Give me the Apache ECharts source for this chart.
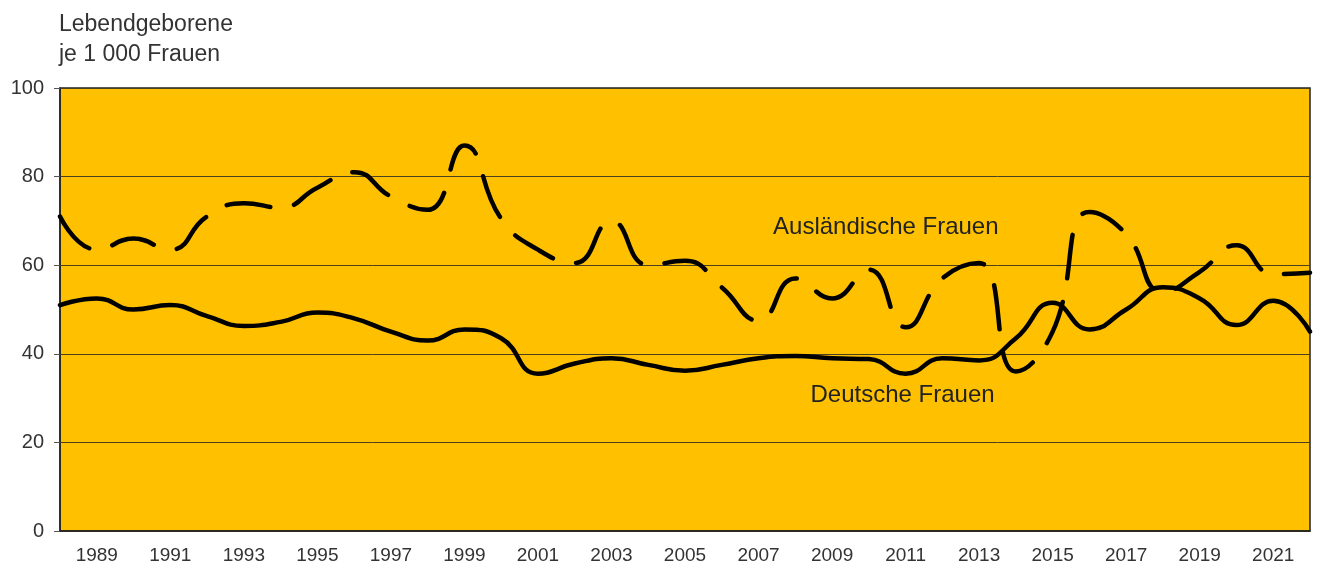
<!DOCTYPE html>
<html>
<head>
<meta charset="utf-8">
<script src="https://cdn.jsdelivr.net/npm/echarts@6/dist/echarts.min.js"></script>
<style>
  html, body { margin: 0; padding: 0; background: #fff; }
  #chart { width: 1318px; height: 575px; }
</style>
</head>
<body>
<div id="chart"></div>
<script>
var years = ['1988','1989','1990','1991','1992','1993','1994','1995','1996','1997',
             '1998','1999','2000','2001','2002','2003','2004','2005','2006','2007',
             '2008','2009','2010','2011','2012','2013','2014','2015','2016','2017',
             '2018','2019','2020','2021','2022'];
var auslaendische = [71, 63.5, 66, 63.5, 71, 74, 73, 77.5, 81, 75.5,
                     72.5, 87, 70.5, 63.5, 60.5, 70, 60, 61, 55, 47.5,
                     57, 52.5, 59, 46, 57, 60.5, 36, 45, 72, 67,
                     54, 58.5, 64.5, 58, 58.3];
var deutsche = [51, 52.5, 50, 51, 48.5, 46.3, 47.2, 49.3, 48, 45,
                43, 45.5, 43.5, 35.5, 37.8, 39, 37.5, 36.2, 37.5, 39,
                39.5, 39, 38.8, 35.5, 39, 38.5, 43.5, 51.5, 45.5, 50,
                55, 52.5, 46.5, 52, 45];
var yTicks = [0, 20, 40, 60, 80, 100];

var font = 'Liberation Sans, Arial, sans-serif';
var myChart = echarts.init(document.getElementById('chart'));

var option = {
    animation: false,
    title: {
        text: 'Lebendgeborene\nje 1 000 Frauen',
        left: 54,
        top: 5,
        textStyle: {
            color: '#333',
            fontFamily: font,
            fontWeight: 'normal',
            fontSize: 23,
            lineHeight: 30
        }
    },
    grid: {
        left: 60,
        right: 8,
        top: 88,
        bottom: 44,
        show: true,
        backgroundColor: '#FFC000',
        borderColor: '#222',
        borderWidth: 1.5
    },
    xAxis: {
        type: 'category',
        data: years,
        boundaryGap: false,
        axisLine: { show: true, lineStyle: { color: '#222', width: 1.5 } },
        axisTick: { show: false },
        splitLine: { show: false },
        axisLabel: {
            color: '#333',
            fontFamily: font,
            fontSize: 19,
            margin: 15,
            interval: function (i, v) { return Number(v) % 2 === 1; }
        }
    },
    yAxis: {
        type: 'value',
        min: yTicks[0],
        max: yTicks[yTicks.length - 1],
        interval: 20,
        axisLine: { show: true, lineStyle: { color: '#222', width: 1.5 } },
        axisTick: { show: true, length: 6, lineStyle: { color: '#555' } },
        splitLine: { show: true, lineStyle: { color: '#4d4020', width: 1 } },
        axisLabel: {
            color: '#333',
            fontFamily: font,
            fontSize: 20,
            margin: 16
        }
    },
    series: [
        {
            name: 'Ausländische Frauen',
            type: 'line',
            data: auslaendische,
            smooth: 0.5,
            symbol: 'none',
            lineStyle: { color: '#000', width: 4.5, type: [44, 24], cap: 'round' },
            markPoint: {
                symbol: 'circle',
                symbolSize: 0,
                silent: true,
                label: {
                    show: true,
                    formatter: 'Ausländische Frauen',
                    color: '#222',
                    fontFamily: font,
                    fontSize: 24,
                    offset: [17, 0]
                },
                data: [{ coord: ['2010', 68.6] }]
            }
        },
        {
            name: 'Deutsche Frauen',
            type: 'line',
            data: deutsche,
            smooth: 0.5,
            symbol: 'none',
            lineStyle: { color: '#000', width: 4.5, cap: 'round' },
            markPoint: {
                symbol: 'circle',
                symbolSize: 0,
                silent: true,
                label: {
                    show: true,
                    formatter: 'Deutsche Frauen',
                    color: '#222',
                    fontFamily: font,
                    fontSize: 24,
                    offset: [-3, 0]
                },
                data: [{ coord: ['2011', 30.7] }]
            }
        }
    ]
};

myChart.setOption(option);
</script>
</body>
</html>
